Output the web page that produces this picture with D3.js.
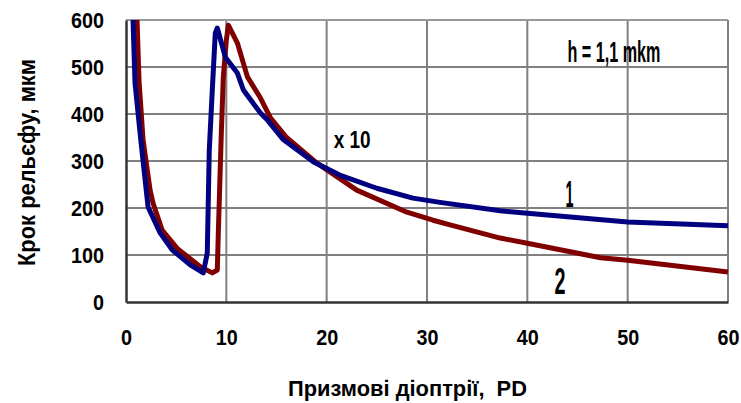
<!DOCTYPE html>
<html>
<head>
<meta charset="utf-8">
<script src="https://cdn.jsdelivr.net/npm/d3@7"></script>
<style>
  body { margin: 0; background: #fff; }
  text { font-family: "Liberation Sans", Arial, sans-serif; font-weight: bold; fill: #000; }
</style>
</head>
<body>
<div id="chart-area"></div>
<script>
// curve 1 (blue)
var pd1 = [0.7, 0.9, 1.4, 2.2, 3.4, 4.6, 6.4, 7.7, 8.1, 8.3, 8.6, 8.9, 9.1, 9.9, 11.1, 11.7, 13.4, 14.1, 15.7, 18.7, 21.3, 25, 28.6, 31.3, 37.3, 40, 50, 60];
var step1 = [600, 466, 360, 202, 147, 111, 79, 62, 104, 323, 451, 572, 583, 521, 487, 451, 402, 387, 345, 298, 270, 242, 221, 212, 194, 189, 170, 162];
// curve 2 (red)
var pd2 = [1.1, 1.3, 1.7, 2.4, 2.7, 3.6, 5.1, 7.4, 8.6, 9.1, 9.2, 9.5, 9.7, 10.0, 10.2, 11.1, 12.1, 13.4, 14.4, 16, 19, 23, 28, 30.6, 32.3, 37.3, 40, 47.3, 50, 60];
var step2 = [600, 470, 345, 238, 210, 153, 114, 75, 62, 68, 146, 359, 479, 557, 589, 551, 479, 434, 392, 350, 296, 238, 191, 174, 164, 136, 125, 94, 89, 64];

var xTicks = [0, 10, 20, 30, 40, 50, 60];
var yTicks = [0, 100, 200, 300, 400, 500, 600];

var margin = { left: 126, right: 13, top: 20, bottom: 101 };
var width = 741 - margin.left - margin.right,
    height = 403 - margin.top - margin.bottom;

var svg = d3.select("#chart-area")
  .append("svg")
    .attr("width", 741)
    .attr("height", 403);

var g = svg.append("g")
    .attr("transform", "translate(" + margin.left + ", " + margin.top + ")");

var x = d3.scaleLinear().domain([0, 60]).range([0, width]);
var y = d3.scaleLinear().domain([0, 600]).range([height, 0]);

// horizontal grid
g.selectAll(".hgrid").data(yTicks.slice(1, -1)).enter().append("line")
  .attr("x1", 0).attr("x2", width)
  .attr("y1", d => y(d)).attr("y2", d => y(d))
  .attr("stroke", "#000").attr("stroke-width", 1);

// vertical grid
g.selectAll(".vgrid").data(xTicks.slice(1)).enter().append("line")
  .attr("x1", d => x(d)).attr("x2", d => x(d))
  .attr("y1", 0).attr("y2", height)
  .attr("stroke", "#808080").attr("stroke-width", 2);

// top border
g.append("line")
  .attr("x1", 0).attr("x2", width).attr("y1", 0).attr("y2", 0)
  .attr("stroke", "#999").attr("stroke-width", 2);

// axes
var xAxis = g.append("g")
  .attr("transform", "translate(0, " + height + ")")
  .call(d3.axisBottom(x).tickValues(xTicks).tickSize(0).tickPadding(27));
var yAxis = g.append("g")
  .call(d3.axisLeft(y).tickValues(yTicks).tickSize(0).tickPadding(22));

[xAxis, yAxis].forEach(function(a) {
  a.select(".domain").attr("stroke", "#333").attr("stroke-width", 2.5);
  a.selectAll("text")
    .attr("font-size", "22px")
    .style("font-family", "\"Liberation Sans\", Arial, sans-serif")
    .style("font-weight", "bold")
    .attr("fill", "#000")
    .attr("textLength", function() { return this.textContent.length * 11; })
    .attr("lengthAdjust", "spacingAndGlyphs");
});

// curves
var line = d3.line()
  .x(d => x(d[0]))
  .y(d => y(d[1]));

g.append("path")
  .datum(d3.zip(pd2, step2))
  .attr("fill", "none")
  .attr("stroke", "#800000")
  .attr("stroke-width", 5)
  .attr("stroke-linejoin", "round")
  .attr("d", line);

g.append("path")
  .datum(d3.zip(pd1, step1))
  .attr("fill", "none")
  .attr("stroke", "#000080")
  .attr("stroke-width", 5)
  .attr("stroke-linejoin", "round")
  .attr("d", line);

// annotations (narrow, tall lettering)
function note(px, py, size, len, txt) {
  g.append("text")
    .attr("x", px).attr("y", py)
    .attr("font-size", size + "px")
    .attr("textLength", len)
    .attr("lengthAdjust", "spacingAndGlyphs")
    .text(txt);
}
note(x(44.0), y(510), 30, 93, "h = 1,1 mkm");
note(x(20.7), y(328), 23, 37, "x 10");
note(x(43.8), y(207) + 2, 36, 8, "1");
note(x(42.7), y(19) + 1, 36, 11, "2");

// X Label
svg.append("text")
  .attr("x", 288)
  .attr("y", 396)
  .attr("font-size", "22px")
  .attr("textLength", 239)
  .attr("lengthAdjust", "spacingAndGlyphs")
  .attr("xml:space", "preserve")
  .text("Призмові діоптрії,  PD");

// Y Label
svg.append("text")
  .attr("x", -266)
  .attr("y", 35)
  .attr("font-size", "23px")
  .attr("textLength", 207)
  .attr("lengthAdjust", "spacingAndGlyphs")
  .attr("transform", "rotate(-90)")
  .text("Крок рельєфу, мкм");
</script>
</body>
</html>
